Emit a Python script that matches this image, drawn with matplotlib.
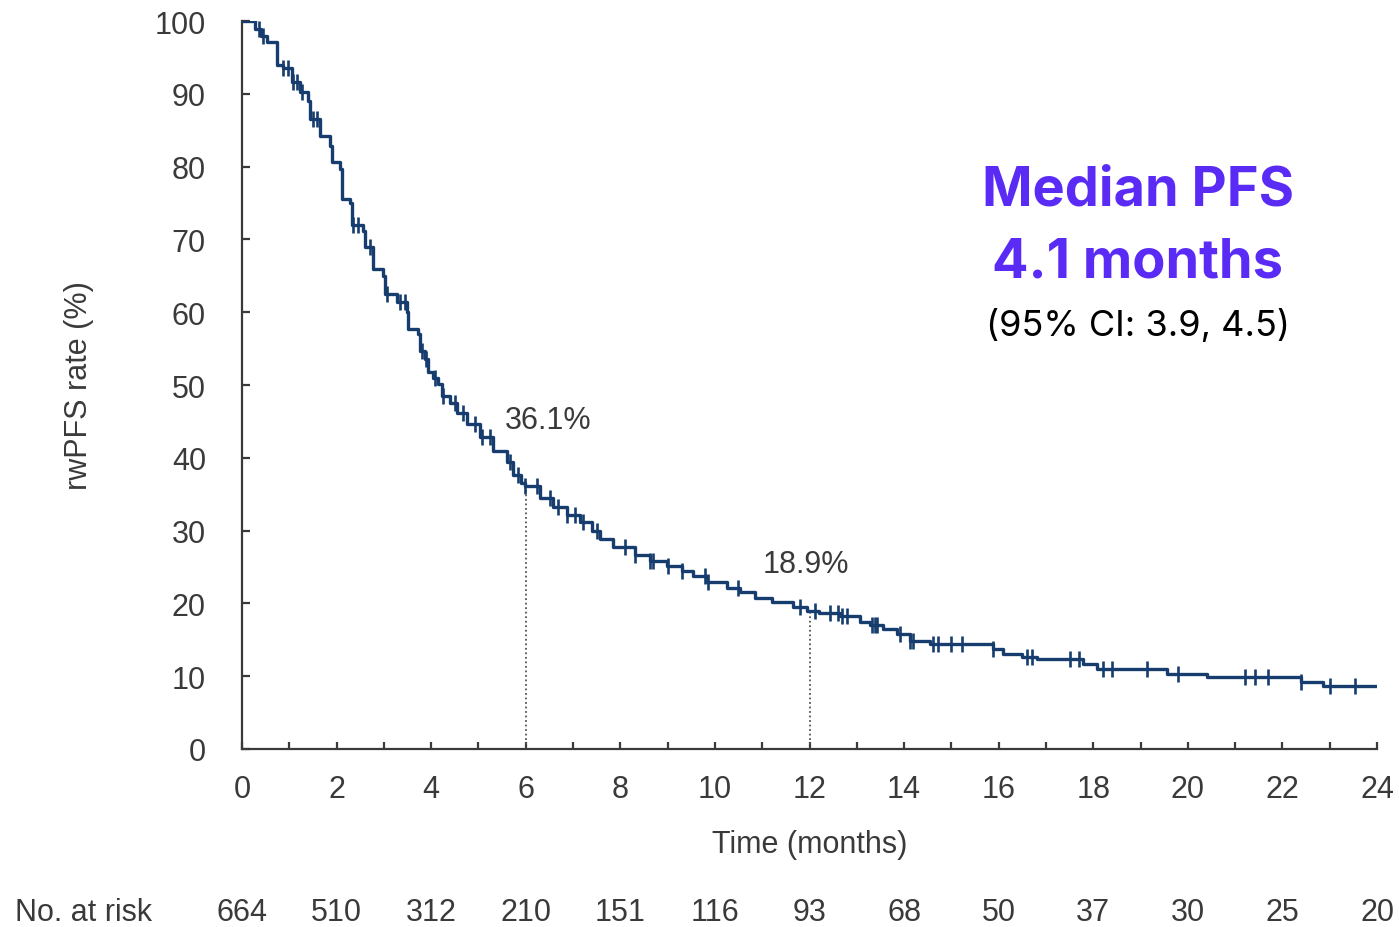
import numpy as np
import matplotlib as mpl
mpl.use('Agg')
import matplotlib.pyplot as plt
import matplotlib.transforms as mtransforms

# KM step points: time (months) -> rwPFS (%)
step_t = [0.0, 0.27, 0.40, 0.53, 0.74, 0.87, 1.06, 1.23, 1.40, 1.44, 1.65, 1.86,
          1.90, 2.07, 2.11, 2.28, 2.33, 2.56, 2.60, 2.77, 2.98, 3.02, 3.28, 3.49,
          3.51, 3.72, 3.76, 3.87, 3.93, 4.04, 4.14, 4.23, 4.40, 4.55, 4.76, 5.03,
          5.31, 5.60, 5.73, 5.90, 5.98, 6.30, 6.58, 6.87, 7.15, 7.40, 7.57, 7.84,
          8.30, 8.63, 8.98, 9.30, 9.54, 9.83, 10.25, 10.53, 10.85, 11.20, 11.65,
          11.94, 12.20, 12.64, 13.07, 13.28, 13.55, 13.85, 14.12, 14.55, 15.88,
          16.10, 16.50, 16.80, 17.78, 18.08, 19.56, 20.40, 22.40, 22.85, 24.05]
step_s = [100.0, 98.9, 98.0, 97.1, 94.0, 93.5, 91.6, 90.2, 89.0, 86.5, 84.2, 82.8,
          80.6, 79.7, 75.5, 75.0, 72.0, 71.2, 69.0, 66.0, 65.0, 62.5, 61.4, 60.0,
          57.7, 57.0, 54.7, 53.6, 51.8, 51.0, 50.2, 48.5, 47.5, 46.2, 44.6, 42.8,
          41.0, 39.4, 37.6, 36.6, 36.1, 34.5, 33.2, 32.1, 31.2, 30.0, 28.9, 27.7,
          26.6, 25.8, 25.1, 24.4, 23.7, 23.0, 22.1, 21.6, 20.7, 20.2, 19.5,
          18.9, 18.7, 18.3, 17.4, 17.1, 16.5, 15.8, 14.9, 14.4, 13.7,
          13.0, 12.6, 12.4, 11.7, 11.0, 10.3, 9.9, 9.2, 8.7, 8.7]

# censored observations (months)
censor_t = [0.35, 0.45, 0.87, 0.97, 1.08, 1.16, 1.27, 1.50, 1.58, 2.35, 2.45, 2.70,
            3.07, 3.34, 3.45, 3.80, 3.90, 4.08, 4.25, 4.50, 4.67, 4.93, 5.07, 5.24,
            5.67, 5.83, 5.98, 6.24, 6.51, 6.68, 6.87, 7.04, 7.21, 7.50, 8.10, 8.31,
            8.63, 8.69, 9.00, 9.30, 9.79, 9.85, 10.49, 11.80, 12.11, 12.43, 12.60,
            12.68, 12.79, 13.32, 13.38, 13.42, 13.91, 14.12, 14.19, 14.61, 14.71,
            15.00, 15.22, 15.88, 16.60, 16.70, 17.50, 17.70, 18.20, 18.40, 19.13,
            19.79, 21.20, 21.42, 21.69, 22.40, 23.00, 23.53]

landmark_t = [6, 12]
landmark_s = [36.1, 18.9]
landmark_lbl = ['36.1%', '18.9%']
lbl_xy = [(6.47, 45.2), (11.92, 25.4)]
risk_t = [0, 2, 4, 6, 8, 10, 12, 14, 16, 18, 20, 22, 24]
at_risk = [664, 510, 312, 210, 151, 116, 93, 68, 50, 37, 30, 25, 20]

navy = '#163D6E'
grey = '#3A3A3A'
plt.rcParams['font.family'] = ['Liberation Sans', 'DejaVu Sans']

fig = plt.figure(figsize=(13.99, 9.28), dpi=100)
ax = fig.add_axes([242/1399, 1-750/928, (1377-242)/1399, (750-22)/928])

ax.plot(step_t, step_s, drawstyle='steps-post', color=navy, lw=2.4, zorder=3)
# censor marks sit on the curve
idx = np.searchsorted(step_t, censor_t, side='right') - 1
cs = np.array(step_s)[idx]
ax.plot(censor_t, cs, ls='none', marker='|', ms=11, mew=1.9, color=navy, zorder=4)

ax.vlines(landmark_t, 0, landmark_s, colors='#555555', linestyles=(0, (1, 1.5)), lw=1.3)
for (x, y), s in zip(lbl_xy, landmark_lbl):
    ax.text(x, y, s, fontsize=22, color=grey, ha='center', va='center')

ax.set_xlim(0, 24)
ax.set_ylim(0, 100)
ax.set_xticks(range(0, 25, 2))
ax.set_xticks(range(1, 25, 2), minor=True)
ax.set_yticks(range(0, 101, 10))
for s in ['top', 'right']:
    ax.spines[s].set_visible(False)
for s in ['left', 'bottom']:
    ax.spines[s].set_color(grey)
    ax.spines[s].set_linewidth(1.6)
ax.tick_params(axis='x', which='both', direction='in', length=5, width=1.6,
               color=grey, labelsize=22, labelcolor=grey, pad=18)
ax.tick_params(axis='y', direction='in', length=6, width=1.6, color=grey,
               labelsize=22, labelcolor=grey, pad=26)
ax.set_xlabel('Time (months)', fontsize=22, color=grey, labelpad=18)
ax.set_ylabel('rwPFS rate (%)', fontsize=22, color=grey, labelpad=44)

# number at risk row
tr = mtransforms.blended_transform_factory(ax.transData, fig.transFigure)
yr = 1 - 913/928
fig.text(15/1399, yr, 'No. at risk', fontsize=22, color=grey, ha='left', va='center')
for t, n in zip(risk_t, at_risk):
    ax.text(t, yr, str(n), transform=tr, fontsize=22, color=grey,
            ha='center', va='center', clip_on=False)

purple = '#5B2BF6'
fig.text(1138/1399, 1-191/928, 'Median PFS', family=['Inter', 'DejaVu Sans'],
         fontweight='bold', fontsize=39, color=purple, ha='center', va='center')
fig.text(1138/1399, 1-263/928, '4.1 months', family=['Inter', 'DejaVu Sans'],
         fontweight='bold', fontsize=39, color=purple, ha='center', va='center')
fig.text(1138/1399, 1-326/928, '(95% CI: 3.9, 4.5)', family=['Inter', 'DejaVu Sans'],
         fontsize=26, color='black', ha='center', va='center')

fig.savefig('out.png', dpi=100)
